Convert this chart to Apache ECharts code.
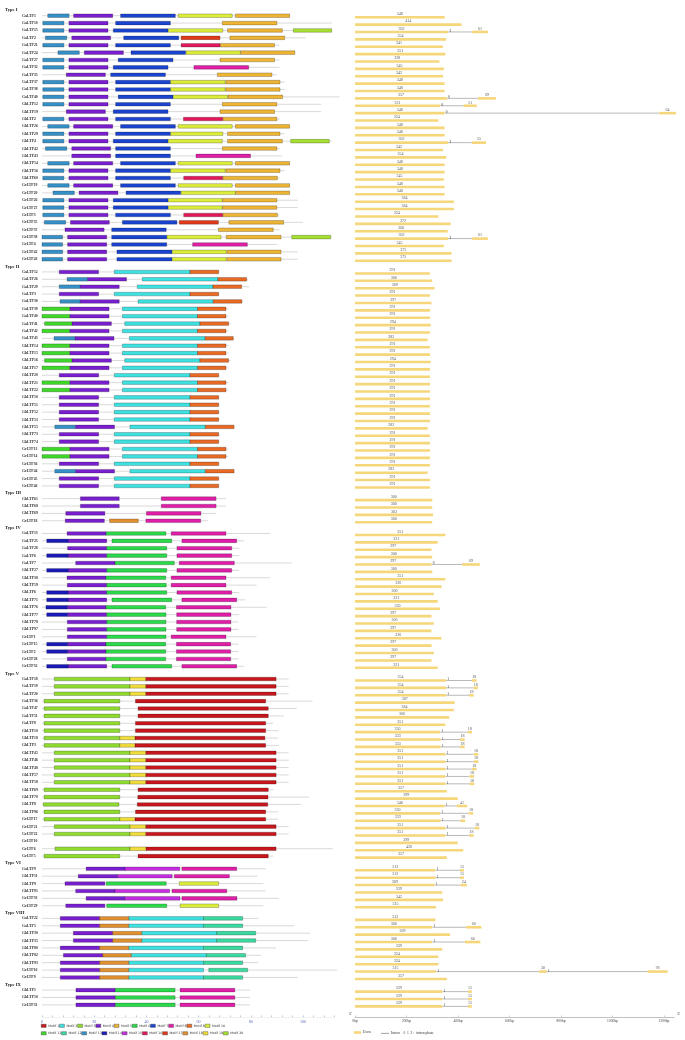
<!DOCTYPE html>
<html>
<head>
<meta charset="utf-8">
<script src="https://cdn.jsdelivr.net/npm/echarts@6/dist/echarts.min.js"></script>
<style>
  html, body { margin: 0; padding: 0; background: #fff; }
  #chart { width: 685px; height: 1040px; }
</style>
</head>
<body>
<div id="chart"></div>
<script>
// ---- data ----
const typeNames = ["Type I", "Type II", "Type III", "Type IV", "Type V", "Type VI", "Type VIII", "Type IX"];
const typeSizes = [34, 30, 4, 19, 25, 6, 9, 3];

const geneNames = [
  // Type I
  "GaLTP1","GaLTP10","GaLTP15","GaLTP2","GaLTP21","GaLTP24","GaLTP27","GaLTP32","GaLTP35","GaLTP37","GaLTP38","GaLTP40",
  "GhLTP12","GhLTP19","GhLTP2","GhLTP26","GhLTP29","GhLTP4","GhLTP42","GhLTP43","GhLTP54","GhLTP56","GhLTP60",
  "GrLTP19","GrLTP20","GrLTP26","GrLTP27","GrLTP3","GrLTP35","GrLTP37","GrLTP38","GrLTP4","GrLTP42","GrLTP43",
  // Type II
  "GaLTP12","GaLTP26","GaLTP29","GaLTP3","GaLTP30","GaLTP39","GaLTP40","GaLTP41","GaLTP42","GaLTP43",
  "GhLTP14","GhLTP15","GhLTP16","GhLTP17","GhLTP20","GhLTP21","GhLTP22","GhLTP50","GhLTP51","GhLTP52","GhLTP53","GhLTP55","GhLTP73","GhLTP74",
  "GrLTP13","GrLTP14","GrLTP36","GrLTP44","GrLTP45","GrLTP46",
  // Type III
  "GhLTP61","GhLTP68","GhLTP69","GrLTP18",
  // Type IV
  "GaLTP13","GaLTP23","GaLTP28","GaLTP6","GaLTP7","GhLTP27","GhLTP38","GhLTP59","GhLTP6","GhLTP71","GhLTP76","GhLTP77","GhLTP78","GhLTP97",
  "GrLTP1","GrLTP15","GrLTP2","GrLTP28","GrLTP32",
  // Type V
  "GaLTP18","GaLTP19","GaLTP20","GaLTP36","GaLTP47","GaLTP51","GaLTP8","GhLTP10","GhLTP18","GhLTP3","GhLTP45","GhLTP46","GhLTP48",
  "GhLTP57","GhLTP58","GhLTP69","GhLTP70","GhLTP8","GhLTP96","GrLTP17","GrLTP21","GrLTP22","GrLTP10","GrLTP6","GrLTP5",
  // Type VI
  "GaLTP9","GhLTP11","GhLTP9","GhLTP91","GrLTP33","GrLTP29",
  // Type VIII
  "GaLTP22","GaLTP5","GhLTP30","GhLTP35","GhLTP80","GhLTP82","GhLTP93","GrLTP16","GrLTP9",
  // Type IX
  "GhLTP1","GhLTP50","GrLTP31"
];

// protein backbone length (motif axis units)
const proteinLen = [
  95,111,111,101,91,97,91,91,90,93,93,114,107,107,91,95,93,111,91,92,95,93,91,95,95,98,98,91,100,91,111,90,98,98,
  68,79,79.4,68,77.1,71.4,71.4,72.3,71.4,73.5,71.4,71.4,72.3,71.4,68,71.4,71.4,68,68,68,68,73.6,68,68,71.4,71.4,68,73.6,68,68,
  70.5,70.5,66.7,63.7,
  87.4,77.5,75.6,75.6,95.7,75.6,87.4,82.2,75.6,77.8,86.1,75.6,75.2,75.2,82.2,75.2,75.2,75.2,77.5,
  94.5,94.5,94.5,103.7,97.6,92.7,88.6,90.7,90.4,90.7,94.5,94.5,94.5,94.5,94.5,88.6,102.4,99.2,90.5,90.5,94.5,94.5,0,111.4,88.6,
  85.7,82.6,84.8,85.7,90.7,84.8,
  82.9,96.7,102.7,101.8,89.8,83.9,82.9,113,98,
  79.7,79.7,79.7
];

// motif hits per gene: [motif, start, end]
const motifHits = [
  // Type I
  [[13,2.2,10.4],[4,12.1,27.1],[7,30.1,51.1],[10,52.2,72.9],[5,74.1,94.9]],
  [[13,0.3,8.4],[4,10.3,25.3],[7,28.2,49.2],[5,69.1,90.0]],
  [[13,0.3,8.4],[4,10.3,25.3],[7,27.3,48.3],[10,48.4,69.3],[5,71.1,92.1],[20,96.3,111.0]],
  [[13,1.3,9.5],[4,11.4,26.3],[7,31.3,52.4],[17,53.3,68.2],[5,72.0,93.0]],
  [[13,0.3,8.4],[4,10.3,25.3],[7,28.2,49.2],[16,53.3,68.2],[5,68.3,89.1]],
  [[13,6.1,14.3],[4,16.2,31.2],[7,34.1,55.0],[10,55.2,76.0],[5,76.1,96.9]],
  [[13,0.3,8.4],[4,10.3,25.3],[7,29.2,50.2],[5,68.2,89.1]],
  [[13,0.3,8.4],[4,10.3,25.3],[7,27.3,48.3],[8,58.2,79.2]],
  [[4,9.3,24.3],[7,26.3,47.3],[5,67.2,88.1]],
  [[13,0.3,8.4],[4,10.3,25.3],[7,28.2,49.2],[10,49.3,70.2],[5,70.4,91.2]],
  [[13,0.3,8.4],[4,10.3,25.3],[7,28.2,49.2],[10,49.3,70.2],[5,70.4,91.2]],
  [[13,0.3,8.4],[4,10.3,25.3],[7,29.2,50.2],[10,50.3,71.1],[5,71.3,92.2]],
  [[13,0.3,8.4],[4,10.3,25.3],[7,28.2,49.2],[5,69.1,90.0]],
  [[4,9.3,24.3],[7,27.3,48.3],[5,68.2,89.1]],
  [[13,0.3,8.4],[4,10.3,25.3],[7,28.2,49.2],[16,54.2,69.2],[5,69.3,90.0]],
  [[13,2.2,10.4],[4,12.1,27.1],[7,30.1,51.1],[10,52.2,72.9],[5,74.1,94.9]],
  [[13,0.3,8.4],[4,10.3,25.3],[7,28.2,49.2],[10,49.3,69.3],[5,71.1,91.2]],
  [[13,0.3,8.4],[4,10.3,25.3],[7,27.3,48.3],[10,48.4,69.1],[5,71.1,92.1],[20,95.3,110.1]],
  [[13,1.3,9.5],[4,11.4,26.3],[7,28.2,49.2],[5,69.1,90.0]],
  [[4,11.4,26.3],[7,28.2,49.2],[8,59.0,79.9]],
  [[13,2.2,10.4],[4,12.1,27.1],[7,30.1,51.1],[10,52.2,72.9],[5,74.1,94.9]],
  [[13,0.3,8.4],[4,10.3,25.3],[7,28.2,49.2],[10,49.3,70.2],[5,70.4,91.2]],
  [[13,0.3,8.4],[4,10.3,25.3],[7,28.2,49.2],[16,54.3,69.2],[5,69.3,90.2]],
  [[13,2.2,10.4],[4,12.1,27.1],[7,30.1,51.1],[10,52.2,72.9],[5,74.1,94.9]],
  [[13,4.2,12.4],[4,14.2,29.1],[7,32.2,53.1],[10,53.3,74.1],[5,74.2,94.9]],
  [[13,0.3,8.4],[4,10.3,25.3],[7,27.3,48.3],[10,48.4,69.1],[5,69.2,90.0]],
  [[13,0.3,8.4],[4,10.3,25.3],[7,27.3,48.3],[10,48.4,69.1],[5,69.2,90.0]],
  [[13,0.3,8.4],[4,10.3,25.3],[7,28.2,49.2],[16,54.3,69.2],[5,69.3,90.2]],
  [[13,0.9,9.1],[4,10.9,25.8],[7,30.8,51.7],[17,52.6,67.6],[5,71.6,92.6]],
  [[4,8.8,23.8],[7,26.7,47.6],[5,67.6,88.6]],
  [[13,0,7.9],[4,9.8,24.8],[7,26.7,47.8],[10,47.9,68.6],[5,70.6,91.6],[20,95.7,110.6]],
  [[13,0,7.9],[4,9.8,24.8],[7,26.7,47.8],[8,57.7,78.7]],
  [[13,0,7.9],[4,9.8,24.8],[7,28.7,49.8],[10,49.9,70.6],[5,70.8,91.6]],
  [[13,0,7.9],[4,9.8,24.8],[7,28.7,49.8],[10,49.9,70.6],[5,70.8,91.6]],
  // Type II
  [[4,6.6,21.7],[2,27.7,56.7],[9,56.7,67.7]],
  [[13,9.6,17.4],[4,17.4,32.4],[2,38.4,67.4],[9,67.4,78.4]],
  [[13,6.6,14.6],[4,14.6,29.6],[2,36.5,65.5],[9,65.5,76.5]],
  [[4,6.6,21.7],[2,27.7,56.7],[9,56.7,67.7]],
  [[13,6.9,14.6],[4,14.6,29.6],[2,36.8,65.6],[9,65.6,76.6]],
  [[11,0,10.6],[4,10.6,25.7],[2,30.8,59.6],[9,59.6,70.5]],
  [[11,0,10.6],[4,10.6,25.7],[2,30.8,59.6],[9,59.6,70.5]],
  [[11,1.0,11.5],[4,11.5,26.6],[2,31.7,60.5],[9,60.5,71.5]],
  [[11,0,10.6],[4,10.6,25.7],[2,30.8,59.6],[9,59.6,70.5]],
  [[13,4.6,12.6],[4,12.6,27.6],[2,33.5,62.5],[9,62.5,73.3]],
  [[11,0,10.6],[4,10.6,25.7],[2,30.8,59.6],[9,59.6,70.5]],
  [[11,0,10.6],[4,10.6,25.7],[2,30.8,59.6],[9,59.6,70.5]],
  [[11,1.0,11.5],[4,11.5,26.6],[2,31.7,60.5],[9,60.5,71.5]],
  [[11,0,10.6],[4,10.6,25.7],[2,30.8,59.6],[9,59.6,70.5]],
  [[4,6.6,21.7],[2,27.7,56.7],[9,56.7,67.7]],
  [[11,0,10.6],[4,10.6,25.7],[2,30.8,59.6],[9,59.6,70.5]],
  [[11,0,10.6],[4,10.6,25.7],[2,30.8,59.6],[9,59.6,70.5]],
  [[4,6.6,21.7],[2,27.7,56.7],[9,56.7,67.7]],
  [[4,6.6,21.7],[2,27.7,56.7],[9,56.7,67.7]],
  [[4,6.6,21.7],[2,27.7,56.7],[9,56.7,67.7]],
  [[4,6.6,21.7],[2,27.7,56.7],[9,56.7,67.7]],
  [[13,4.9,12.8],[4,12.8,27.8],[2,33.7,62.6],[9,62.6,73.6]],
  [[4,6.6,21.7],[2,27.7,56.7],[9,56.7,67.7]],
  [[4,6.6,21.7],[2,27.7,56.7],[9,56.7,67.7]],
  [[11,0,10.6],[4,10.6,25.7],[2,30.8,59.6],[9,59.6,70.5]],
  [[11,0,10.6],[4,10.6,25.7],[2,30.8,59.6],[9,59.6,70.5]],
  [[4,6.6,21.7],[2,27.7,56.7],[9,56.7,67.7]],
  [[13,4.9,12.8],[4,12.8,27.8],[2,33.7,62.6],[9,62.6,73.6]],
  [[4,6.6,21.7],[2,27.7,56.7],[9,56.7,67.7]],
  [[4,6.6,21.7],[2,27.7,56.7],[9,56.7,67.7]],
  // Type III
  [[4,14.7,29.6],[8,45.7,66.7]],
  [[4,14.7,29.6],[8,45.7,66.7]],
  [[4,9.1,24.1],[8,40.0,60.9]],
  [[4,8.9,23.9],[18,25.9,36.9],[8,39.8,60.8]],
  // Type IV
  [[4,9.6,24.6],[6,24.6,47.5],[8,49.5,70.5]],
  [[14,1.8,10.0],[4,10.0,24.8],[6,26.8,49.7],[8,53.6,74.6]],
  [[4,9.8,24.8],[6,24.8,47.8],[8,51.7,72.7]],
  [[14,1.8,10.0],[4,10.0,24.8],[6,24.8,47.8],[8,51.7,72.7]],
  [[4,12.9,28.0],[6,28.0,50.7],[8,52.6,73.7]],
  [[14,1.8,10.0],[4,10.0,24.8],[6,24.8,47.8],[8,51.7,72.7]],
  [[4,9.6,24.5],[6,24.5,47.4],[8,49.5,70.5]],
  [[4,9.7,24.8],[6,24.8,47.6],[8,49.5,70.5]],
  [[14,1.8,10.0],[4,10.0,24.8],[6,24.8,47.8],[8,51.7,72.7]],
  [[14,1.8,10.0],[4,10.0,24.8],[6,26.8,49.7],[8,53.6,74.6]],
  [[14,1.5,9.7],[4,9.7,24.5],[6,24.5,47.4],[8,51.5,72.4]],
  [[14,1.8,9.8],[4,9.8,24.8],[6,24.8,47.5],[8,51.6,72.4]],
  [[4,9.7,24.8],[6,24.8,47.5],[8,51.6,72.4]],
  [[4,9.7,24.8],[6,24.8,47.5],[8,51.6,72.4]],
  [[4,9.7,24.8],[6,24.8,47.5],[8,49.5,70.5]],
  [[14,1.8,9.8],[4,9.8,24.5],[6,24.5,47.4],[8,51.5,72.3]],
  [[14,1.8,9.8],[4,9.8,24.5],[6,24.5,47.4],[8,51.5,72.3]],
  [[4,9.7,24.5],[6,24.5,47.4],[8,51.5,72.3]],
  [[14,1.8,10.0],[4,10.0,24.8],[6,26.8,49.7],[8,53.6,74.6]],
  // Type V
  [[3,4.7,33.7],[19,33.7,39.7],[1,39.7,89.7]],
  [[3,4.7,33.7],[19,33.7,39.7],[1,39.7,89.7]],
  [[3,4.7,33.7],[19,33.7,39.7],[1,39.7,89.7]],
  [[3,0.8,29.8],[1,35.8,85.7]],
  [[3,0.8,29.8],[1,36.8,86.7]],
  [[3,0.8,29.8],[1,36.8,86.7]],
  [[3,0.8,29.8],[1,35.8,85.7]],
  [[3,0.8,29.8],[1,35.8,85.7]],
  [[3,0.8,29.8],[19,29.8,35.6],[1,35.6,85.4]],
  [[3,0.8,29.8],[19,29.8,35.6],[1,35.6,85.7]],
  [[3,4.7,33.7],[19,33.7,39.7],[1,39.7,89.7]],
  [[3,4.7,33.7],[19,33.7,39.7],[1,39.7,89.7]],
  [[3,4.7,33.7],[19,33.7,39.7],[1,39.7,89.7]],
  [[3,4.7,33.7],[19,33.7,39.7],[1,39.7,89.7]],
  [[3,4.7,33.7],[19,33.7,39.7],[1,39.7,89.7]],
  [[3,0.8,29.8],[1,36.8,86.7]],
  [[3,0.8,29.8],[1,36.7,86.6]],
  [[3,0.5,29.5],[1,36.5,86.5]],
  [[3,0.8,29.8],[1,35.8,85.7]],
  [[3,0.8,29.8],[19,29.8,35.6],[1,35.6,85.7]],
  [[3,4.7,33.7],[19,33.7,39.7],[1,39.7,89.7]],
  [[3,4.7,33.7],[19,33.7,39.7],[1,39.7,89.7]],
  [],
  [[3,5.0,33.7],[19,33.7,39.8],[1,39.8,89.7]],
  [[3,0.8,29.8],[1,36.8,86.7]],
  // Type VI
  [[4,16.9,31.8],[15,31.8,52.8],[8,53.6,74.6]],
  [[4,13.9,29.0],[15,29.0,49.9],[8,50.7,71.8]],
  [[4,8.8,24.1],[6,24.6,47.6],[10,52.6,67.7]],
  [[4,12.9,28.0],[15,28.0,48.9],[8,49.8,70.8]],
  [[4,16.9,31.9],[15,31.9,52.9],[8,53.6,74.7]],
  [[4,9.1,24.1],[6,24.8,47.8],[10,52.9,67.7]],
  // Type VIII
  [[4,7.0,22.1],[18,22.1,33.2],[2,33.2,61.9],[12,61.9,76.9]],
  [[4,7.0,22.1],[18,22.1,33.2],[2,33.2,61.9],[12,61.9,76.9]],
  [[4,12.0,27.1],[18,27.1,38.2],[2,38.2,66.9],[12,66.9,81.9]],
  [[4,12.0,27.1],[18,27.1,38.2],[2,38.2,66.9],[12,66.9,81.9]],
  [[4,7.0,22.1],[18,22.1,33.2],[2,33.2,61.9],[12,61.9,76.9]],
  [[4,8.2,23.3],[18,23.3,34.2],[2,34.2,63.0],[12,63.0,78.0]],
  [[4,7.0,22.1],[18,22.1,33.2],[2,33.2,61.9],[12,61.9,76.9]],
  [[4,7.0,22.1],[18,22.1,33.2],[2,33.2,61.9],[12,63.9,78.8]],
  [[4,7.0,22.1],[18,22.1,33.2],[2,33.2,61.9],[12,61.9,76.9]],
  // Type IX
  [[4,13.0,28.1],[6,28.1,51.0],[8,52.9,73.9]],
  [[4,13.0,28.1],[6,28.1,51.0],[8,52.9,73.9]],
  [[4,13.0,28.1],[6,28.1,51.0],[8,52.9,73.9]]
];

// gene models: exon, phase, intron, exon, ... (bp)
const geneModels = [
  // Type I
  [348],[414],[362,2,93,61],[354],[341],[351],[328],[345],[342],[348],[348],[357,0,121,69],
  [331,0,91,51],[348,0,834,64],[324],[348],[348],[362,2,92,55],[342],[354],[348],[348],[345],
  [348],[348],[384],[384],[324],[372],[360],[362,2,93,61],[345],[375],[375],
  // Type II
  [291],[300],[309],[291],[297],[291],[291],[294],[291],[282],[291],[291],[294],[291],[291],
  [291],[291],[291],[291],[291],[291],[282],[291],[291],[291],[291],[291],[282],[291],[291],
  // Type III
  [300],[300],[303],[300],
  // Type IV
  [351],[321],[297],[300],[297,0,119,69],[300],[351],[336],[306],[321],[330],[297],[306],[297],
  [336],[297],[306],[297],[321],
  // Type V
  [354,1,100,18],[354,1,106,18],[354,1,89,18],[387],[384],[366],[351],[330,1,107,18],[333,1,75,18],
  [333,1,75,18],[351,1,110,18],[351,1,110,18],[351,1,103,18],[351,1,94,18],[351,1,94,18],[357],
  [399],[348,1,47,41],[330,1,111,18],[333,1,77,18],[351,1,114,18],[351,1,92,18],[399],[420],[357],
  // Type VI
  [312,1,96,15],[312,1,96,15],[309,1,101,24],[339],[342],[315],
  // Type VIII
  [312],[300,1,131,60],[369],[300,1,127,60],[339],[324],[324],[315,1,400,30,1,391,78],[357],
  // Type IX
  [339,1,100,15],[339,1,100,15],[339,1,100,15]
];

const motifColors = [
  "#c8161d","#3ee0e0","#8fdc2f","#7a1fd0","#eeb534","#2bd94a","#1a44d0","#e01fa8","#e86a24","#dcec3a",
  "#3fd82a","#3ad9a0","#3590c8","#1a1ab8","#c42ee0","#e0185a","#e03a1a","#e0902e","#f0dc3a","#a6e030"
];
const exonColor = "#f6d67a";
const intronColor = "#8a8a8a";

// ---- row layout ----
const rowV = [];
const headerV = [];
let idx = 0;
typeSizes.forEach((n, t) => {
  headerV.push(idx + t * 0.72 - 0.75);
  for (let k = 0; k < n; k++) { rowV.push(idx + t * 0.72); idx++; }
});

const backboneData = geneNames.map((n, i) => [0, proteinLen[i], rowV[i], n]);
const headerData = typeNames.map((t, i) => [0, headerV[i], t]);

const motifSeries = motifColors.map((c, m) => {
  const data = [];
  motifHits.forEach((hits, i) => {
    hits.forEach(h => { if (h[0] === m + 1) data.push([h[1], h[2], rowV[i]]); });
  });
  return {
    name: "Motif " + (m + 1),
    type: "custom",
    xAxisIndex: 0, yAxisIndex: 0,
    itemStyle: { color: c, borderColor: "rgba(0,0,0,0.45)", borderWidth: 0.5 },
    data,
    z: 3,
    renderItem: (params, api) => {
      const a = api.coord([api.value(0), api.value(2)]);
      const b = api.coord([api.value(1), api.value(2)]);
      return {
        type: "rect",
        shape: { x: a[0], y: a[1] - 1.8, width: b[0] - a[0], height: 3.6 },
        style: { fill: c, stroke: "rgba(0,0,0,0.45)", lineWidth: 0.5 }
      };
    }
  };
});

// gene structure segments
const exonData = [];
const intronData = [];
geneModels.forEach((mdl, i) => {
  let pos = 0;
  let k = 0;
  while (k < mdl.length) {
    exonData.push([pos, pos + mdl[k], rowV[i], mdl[k]]);
    pos += mdl[k];
    k++;
    if (k < mdl.length) {
      intronData.push([pos, pos + mdl[k + 1], rowV[i], mdl[k]]);
      pos += mdl[k + 1];
      k += 2;
    }
  }
});

const serif = "'Liberation Serif', 'DejaVu Serif', serif";

const option = {
  backgroundColor: "#fff",
  animation: false,
  grid: [
    { left: 42, right: 350.7, top: 0, bottom: 23 },
    { left: 355, right: 10.7, top: 0, bottom: 23 }
  ],
  xAxis: [
    {
      gridIndex: 0, type: "value", min: 0, max: 112, interval: 4, position: "bottom",
      axisLine: { onZero: false, lineStyle: { color: "#e2e2e2", width: 0.5 } },
      axisTick: { length: 1.5, inside: true, lineStyle: { color: "#8899cc", width: 0.6 } },
      axisLabel: { fontSize: 4, color: "#5566bb", margin: 2.5, fontFamily: serif,
        formatter: v => (v % 20 === 0 ? String(v) : "") },
      splitLine: { show: false }
    },
    {
      gridIndex: 1, type: "value", min: 0, max: 1240, interval: 200, position: "bottom",
      name: "3'", nameLocation: "end", nameGap: 3,
      nameTextStyle: { fontSize: 4.5, color: "#333", fontFamily: serif, verticalAlign: "bottom", padding: [0, 0, 1, 0] },
      axisLine: { onZero: false, lineStyle: { color: "#999", width: 0.6 } },
      axisTick: { length: 1.5, inside: true, lineStyle: { color: "#999", width: 0.5 } },
      axisLabel: { fontSize: 3.6, color: "#444", margin: 2.5, fontFamily: serif, formatter: v => v + "bp" },
      splitLine: { show: false }
    },
    {
      gridIndex: 1, type: "value", min: 0, max: 1240, position: "bottom",
      name: "5'", nameLocation: "start", nameGap: 3,
      nameTextStyle: { fontSize: 4.5, color: "#333", fontFamily: serif, verticalAlign: "bottom", padding: [0, 0, 1, 0] },
      axisLine: { onZero: false, show: false }, axisTick: { show: false }, axisLabel: { show: false }, splitLine: { show: false }
    }
  ],
  yAxis: [
    { gridIndex: 0, type: "value", inverse: true, min: -2.127, max: 135.68, show: false },
    { gridIndex: 1, type: "value", inverse: true, min: -2.127, max: 135.68, show: false }
  ],
  legend: [
    {
      data: motifColors.slice(0, 10).map((c, m) => "Motif " + (m + 1)),
      left: 41, top: 1024, itemWidth: 5, itemHeight: 3.2, itemGap: 0, padding: 0,
      icon: "rect", selectedMode: false,
      itemStyle: { borderColor: "#444", borderWidth: 0.4 },
      textStyle: { fontSize: 3.2, color: "#333", fontFamily: "DejaVu Sans", padding: [0, 0, 0, -3] }
    },
    {
      data: motifColors.slice(10).map((c, m) => "Motif " + (m + 11)),
      left: 41, top: 1031.5, itemWidth: 5, itemHeight: 3.2, itemGap: 0, padding: 0,
      icon: "rect", selectedMode: false,
      itemStyle: { borderColor: "#444", borderWidth: 0.4 },
      textStyle: { fontSize: 3.2, color: "#333", fontFamily: "DejaVu Sans", padding: [0, 0, 0, -3] }
    },
    {
      data: ["Exon"], left: 354, top: 1030.5, itemWidth: 7, itemHeight: 2.6, padding: 0,
      icon: "rect", selectedMode: false,
      textStyle: { fontSize: 3.6, color: "#333", fontFamily: serif, padding: [0, 0, 0, -3] }
    },
    {
      data: ["Intron"], left: 381, top: 1031.3, itemWidth: 8, itemHeight: 0.8, padding: 0,
      icon: "rect", selectedMode: false,
      formatter: () => "Intron    0  1  2 :  intron phase",
      textStyle: { fontSize: 3.6, color: "#333", fontFamily: serif, padding: [0, 0, 0, -3] }
    }
  ],
  series: [
    {
      name: "backbone", type: "custom", xAxisIndex: 0, yAxisIndex: 0, z: 1,
      data: backboneData,
      renderItem: (params, api) => {
        const len = api.value(1);
        const a = api.coord([0, api.value(2)]);
        const b = api.coord([len, api.value(2)]);
        const children = [{
          type: "text",
          style: { text: geneNames[params.dataIndex], x: 22, y: a[1], fontSize: 3.8, fontWeight: "bold",
            fontFamily: serif, fill: "#333", verticalAlign: "middle", align: "left" }
        }];
        if (len > 0) {
          children.push({ type: "line", shape: { x1: a[0], y1: a[1], x2: b[0], y2: b[1] },
            style: { stroke: "#c9c9c9", lineWidth: 0.7 } });
        }
        return { type: "group", children };
      }
    },
    {
      name: "headers", type: "custom", xAxisIndex: 0, yAxisIndex: 0, z: 1,
      data: headerData,
      renderItem: (params, api) => {
        const a = api.coord([0, api.value(1)]);
        return {
          type: "text",
          style: { text: typeNames[params.dataIndex], x: 5, y: a[1], fontSize: 4.6, fontWeight: "bold",
            fontFamily: serif, fill: "#222", verticalAlign: "middle", align: "left" }
        };
      }
    },
    ...motifSeries,
    {
      name: "Intron", type: "custom", xAxisIndex: 1, yAxisIndex: 1, z: 2,
      itemStyle: { color: intronColor },
      data: intronData,
      renderItem: (params, api) => {
        const a = api.coord([api.value(0), api.value(2)]);
        const b = api.coord([api.value(1), api.value(2)]);
        return {
          type: "group",
          children: [
            { type: "line", shape: { x1: a[0], y1: a[1] + 1.5, x2: b[0], y2: b[1] + 1.5 },
              style: { stroke: intronColor, lineWidth: 0.6 } },
            { type: "text", style: { text: String(api.value(3)), x: a[0] + 1.2, y: a[1] + 0.6, fontSize: 3.4,
                fontFamily: serif, fill: "#222", align: "left", verticalAlign: "middle" } }
          ]
        };
      }
    },
    {
      name: "Exon", type: "custom", xAxisIndex: 1, yAxisIndex: 1, z: 3,
      itemStyle: { color: exonColor },
      data: exonData,
      renderItem: (params, api) => {
        const a = api.coord([api.value(0), api.value(2)]);
        const b = api.coord([api.value(1), api.value(2)]);
        return {
          type: "group",
          children: [
            { type: "rect", shape: { x: a[0], y: a[1] + 0.2, width: b[0] - a[0], height: 2.6 },
              style: { fill: exonColor } },
            { type: "text", style: { text: String(api.value(3)), x: (a[0] + b[0]) / 2, y: a[1] - 1.8,
                fontSize: 4, fontFamily: serif, fill: "#555", align: "center", verticalAlign: "middle" } }
          ]
        };
      }
    }
  ]
};

const myChart = echarts.init(document.getElementById("chart"), null, { renderer: "canvas" });
myChart.setOption(option);
</script>
</body>
</html>
